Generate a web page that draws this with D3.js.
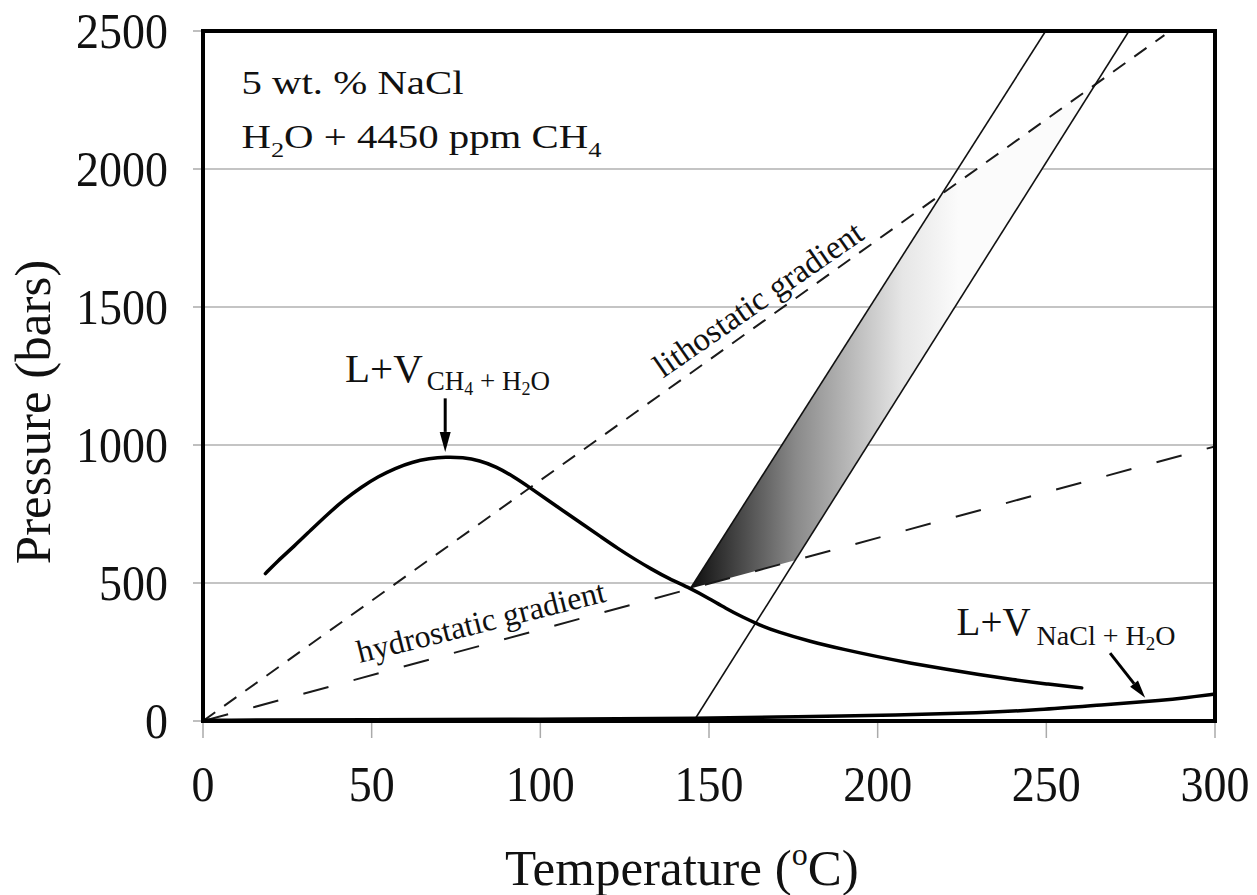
<!DOCTYPE html>
<html><head><meta charset="utf-8">
<script src="https://cdn.jsdelivr.net/npm/d3@7"></script>
<style>
body{margin:0;background:#fff}
text{font-family:"Liberation Serif","Times New Roman",serif;fill:#111}
</style>
</head><body><svg id="c" width="1257" height="895"></svg>
<script>
// ---------- data ----------
const xTicks = [0, 50, 100, 150, 200, 250, 300];
const yTicks = [0, 500, 1000, 1500, 2000, 2500];
const gridTicks = [500, 1000, 1500, 2000];

// L+V (CH4 + H2O) curve
const ch4T = [18.5, 22, 27, 32, 37, 42, 47, 52, 57, 62, 67, 72, 77, 82, 87, 92, 97, 102, 108, 113, 118, 123, 128, 133, 138, 144.5, 150, 155, 160, 165, 170, 180, 190, 200, 210, 220, 230, 240, 250, 260.5];
const ch4P = [534, 578, 633, 692, 750, 803, 848, 886, 916, 938, 951, 957, 955, 944, 921, 886, 845, 802, 751, 709, 667, 625, 586, 550, 516, 481, 444, 408, 376, 348, 324, 288, 259, 233, 209, 188, 168, 150, 134, 120];

// L+V (NaCl + H2O) curve
const naclT = [0, 50, 100, 150, 175, 206.6, 230, 248, 266, 285.7, 290.5, 300];
const naclP = [3, 4, 6, 10, 15, 22, 30, 40, 58, 76, 83, 98];

// gradients
const lithoT = [0, 285], lithoP = [0, 2485];
const hydroT = [0, 300], hydroP = [0, 995];

// isochores
const isoAT = [144.5, 249.8], isoAP = [480, 2500];
const isoBT = [145.5, 274.5], isoBP = [0, 2500];

// arrows [T0,P0,T1,P1]
const arrowCH4 = [71.8, 1169, 71.8, 975];
const arrowNaCl = [268.9, 246, 279.3, 84];

// ---------- setup ----------
const svg = d3.select('#c');
const x = d3.scaleLinear().domain([0, 300]).range([203, 1215]);
const y = d3.scaleLinear().domain([0, 2500]).range([721, 31]);
const zip = (a, b) => a.map((v, i) => [v, b[i]]);
const line = d3.line().x(d => x(d[0])).y(d => y(d[1]));

const defs = svg.append('defs');
defs.append('clipPath').attr('id', 'clip').append('rect')
  .attr('x', x(0)).attr('y', y(2500)).attr('width', x(300) - x(0)).attr('height', y(0) - y(2500));
const grad = defs.append('linearGradient').attr('id', 'band')
  .attr('gradientUnits', 'userSpaceOnUse')
  .attr('x1', x(141)).attr('x2', x(224)).attr('y1', 0).attr('y2', 0);
grad.append('stop').attr('offset', 0).attr('stop-color', '#000');
grad.append('stop').attr('offset', 0.42).attr('stop-color', '#8a8a8a');
grad.append('stop').attr('offset', 0.8).attr('stop-color', '#e6e6e6');
grad.append('stop').attr('offset', 1).attr('stop-color', '#fbfbfb');

// grid
svg.append('g').selectAll('line').data(gridTicks).join('line')
  .attr('x1', x(0)).attr('x2', x(300)).attr('y1', d => y(d)).attr('y2', d => y(d))
  .attr('stroke', '#c4c4c4').attr('stroke-width', 2);

// tick marks
svg.append('g').selectAll('line').data(yTicks).join('line')
  .attr('x1', x(0) - 10).attr('x2', x(0)).attr('y1', d => y(d)).attr('y2', d => y(d))
  .attr('stroke', '#aaa').attr('stroke-width', 1.5);
svg.append('g').selectAll('line').data(xTicks).join('line')
  .attr('x1', d => x(d)).attr('x2', d => x(d)).attr('y1', y(0)).attr('y2', y(0) + 17)
  .attr('stroke', '#aaa').attr('stroke-width', 1.5);

// tick labels
svg.append('g').selectAll('text').data(yTicks).join('text')
  .attr('transform', d => `translate(168,${y(d)}) scale(1,1.12)`)
  .attr('y', 15.5).attr('text-anchor', 'end').attr('font-size', 46).text(d => d);
svg.append('g').selectAll('text').data(xTicks).join('text')
  .attr('transform', d => `translate(${x(d)},783) scale(1,1.12)`)
  .attr('y', 16).attr('text-anchor', 'middle').attr('font-size', 46).text(d => d);

// axis titles
const tx = svg.append('text').attr('x', 505).attr('y', 885).attr('font-size', 51);
tx.append('tspan').text('Temperature (');
tx.append('tspan').attr('font-size', 32).attr('dy', -20).text('o');
tx.append('tspan').attr('dy', 20).text('C)');
svg.append('text').attr('transform', 'translate(50,412) rotate(-90)')
  .attr('text-anchor', 'middle').attr('font-size', 51).text('Pressure (bars)');

// plot content (clipped)
const g = svg.append('g').attr('clip-path', 'url(#clip)');

function lineFn(T, P) { const m = (P[1] - P[0]) / (T[1] - T[0]); return { m, b: P[0] - m * T[0] }; }
function inter(a, b) { const t = (b.b - a.b) / (a.m - b.m); return [t, a.m * t + a.b]; }
const LA = lineFn(isoAT, isoAP), LB = lineFn(isoBT, isoBP), LH = lineFn(hydroT, hydroP), LL = lineFn(lithoT, lithoP);
const tip = [isoAT[0], isoAP[0]];
const bandPts = [tip, inter(LH, LB), inter(LL, LB), inter(LL, LA)];
g.append('path').attr('d', line(bandPts) + 'Z').attr('fill', 'url(#band)');

// dashed gradients
g.append('path').attr('d', line(zip(lithoT, lithoP))).attr('fill', 'none')
  .attr('stroke', '#1a1a1a').attr('stroke-width', 2).attr('stroke-dasharray', '15 11');
g.append('path').attr('d', line(zip(hydroT, hydroP))).attr('fill', 'none')
  .attr('stroke', '#1a1a1a').attr('stroke-width', 2).attr('stroke-dasharray', '26 26');

// isochores
g.append('path').attr('d', line(zip(isoAT, isoAP))).attr('fill', 'none').attr('stroke', '#111').attr('stroke-width', 1.6);
g.append('path').attr('d', line(zip(isoBT, isoBP))).attr('fill', 'none').attr('stroke', '#111').attr('stroke-width', 1.6);

// curves
const smooth = d3.line().x(d => x(d[0])).y(d => y(d[1])).curve(d3.curveBasis);
g.append('path').attr('d', smooth(zip(ch4T, ch4P))).attr('fill', 'none').attr('stroke', '#000').attr('stroke-width', 3.5).attr('stroke-linecap', 'round');
g.append('path').attr('d', smooth(zip(naclT, naclP))).attr('fill', 'none').attr('stroke', '#000').attr('stroke-width', 3.5);

// arrows
function arrow(a, headLen, headW) {
  const x0 = x(a[0]), y0 = y(a[1]), x1 = x(a[2]), y1 = y(a[3]);
  const dx = x1 - x0, dy = y1 - y0, L = Math.hypot(dx, dy), ux = dx / L, uy = dy / L;
  const bx = x1 - ux * headLen, by = y1 - uy * headLen;
  svg.append('line').attr('x1', x0).attr('y1', y0).attr('x2', bx).attr('y2', by)
    .attr('stroke', '#000').attr('stroke-width', 3);
  svg.append('path').attr('d', `M${x1},${y1}L${bx - uy * headW},${by + ux * headW}L${bx + uy * headW},${by - ux * headW}Z`).attr('fill', '#000');
}
arrow(arrowCH4, 20, 5.5);
arrow(arrowNaCl, 18, 5);

// frame
svg.append('rect').attr('x', x(0)).attr('y', y(2500)).attr('width', x(300) - x(0)).attr('height', y(0) - y(2500))
  .attr('fill', 'none').attr('stroke', '#000').attr('stroke-width', 4);

// box text
const t1 = svg.append('text').attr('transform', `translate(${x(11.4)},${y(2273)}) scale(1.2,1)`).attr('font-size', 34);
t1.text('5 wt. % NaCl');
const t2 = svg.append('text').attr('transform', `translate(${x(11.4)},${y(2077)}) scale(1.2,1)`).attr('font-size', 34);
t2.append('tspan').text('H');
t2.append('tspan').attr('font-size', 22).attr('dy', 9).text('2');
t2.append('tspan').attr('dy', -9).text('O + 4450 ppm CH');
t2.append('tspan').attr('font-size', 22).attr('dy', 9).text('4');

// L+V CH4 label
const l1 = svg.append('text').attr('x', x(42.1)).attr('y', y(1228)).attr('font-size', 41);
l1.append('tspan').text('L+V');
l1.append('tspan').attr('font-size', 27).attr('dy', 8).attr('dx', 4).text('CH');
l1.append('tspan').attr('font-size', 18).attr('dy', 5).text('4');
l1.append('tspan').attr('font-size', 27).attr('dy', -5).text(' + H');
l1.append('tspan').attr('font-size', 18).attr('dy', 5).text('2');
l1.append('tspan').attr('font-size', 27).attr('dy', -5).text('O');

// L+V NaCl label
const l2 = svg.append('text').attr('x', x(223.4)).attr('y', y(311)).attr('font-size', 39);
l2.append('tspan').text('L+V');
l2.append('tspan').attr('font-size', 28).attr('dy', 10).attr('dx', 6).text('NaCl + H');
l2.append('tspan').attr('font-size', 19).attr('dy', 5).text('2');
l2.append('tspan').attr('font-size', 28).attr('dy', -5).text('O');

// gradient labels
const angL = Math.atan2(y(lithoP[1]) - y(lithoP[0]), x(lithoT[1]) - x(lithoT[0])) * 180 / Math.PI;
svg.append('text').attr('transform', `translate(${x(136.4)},${y(1241)}) rotate(${angL + 0.8})`)
  .attr('font-size', 33).text('lithostatic gradient');
svg.append('text').attr('transform', `translate(${x(46.5)},${y(210)}) rotate(-14)`)
  .attr('font-size', 32).text('hydrostatic gradient');
</script>
</body></html>
